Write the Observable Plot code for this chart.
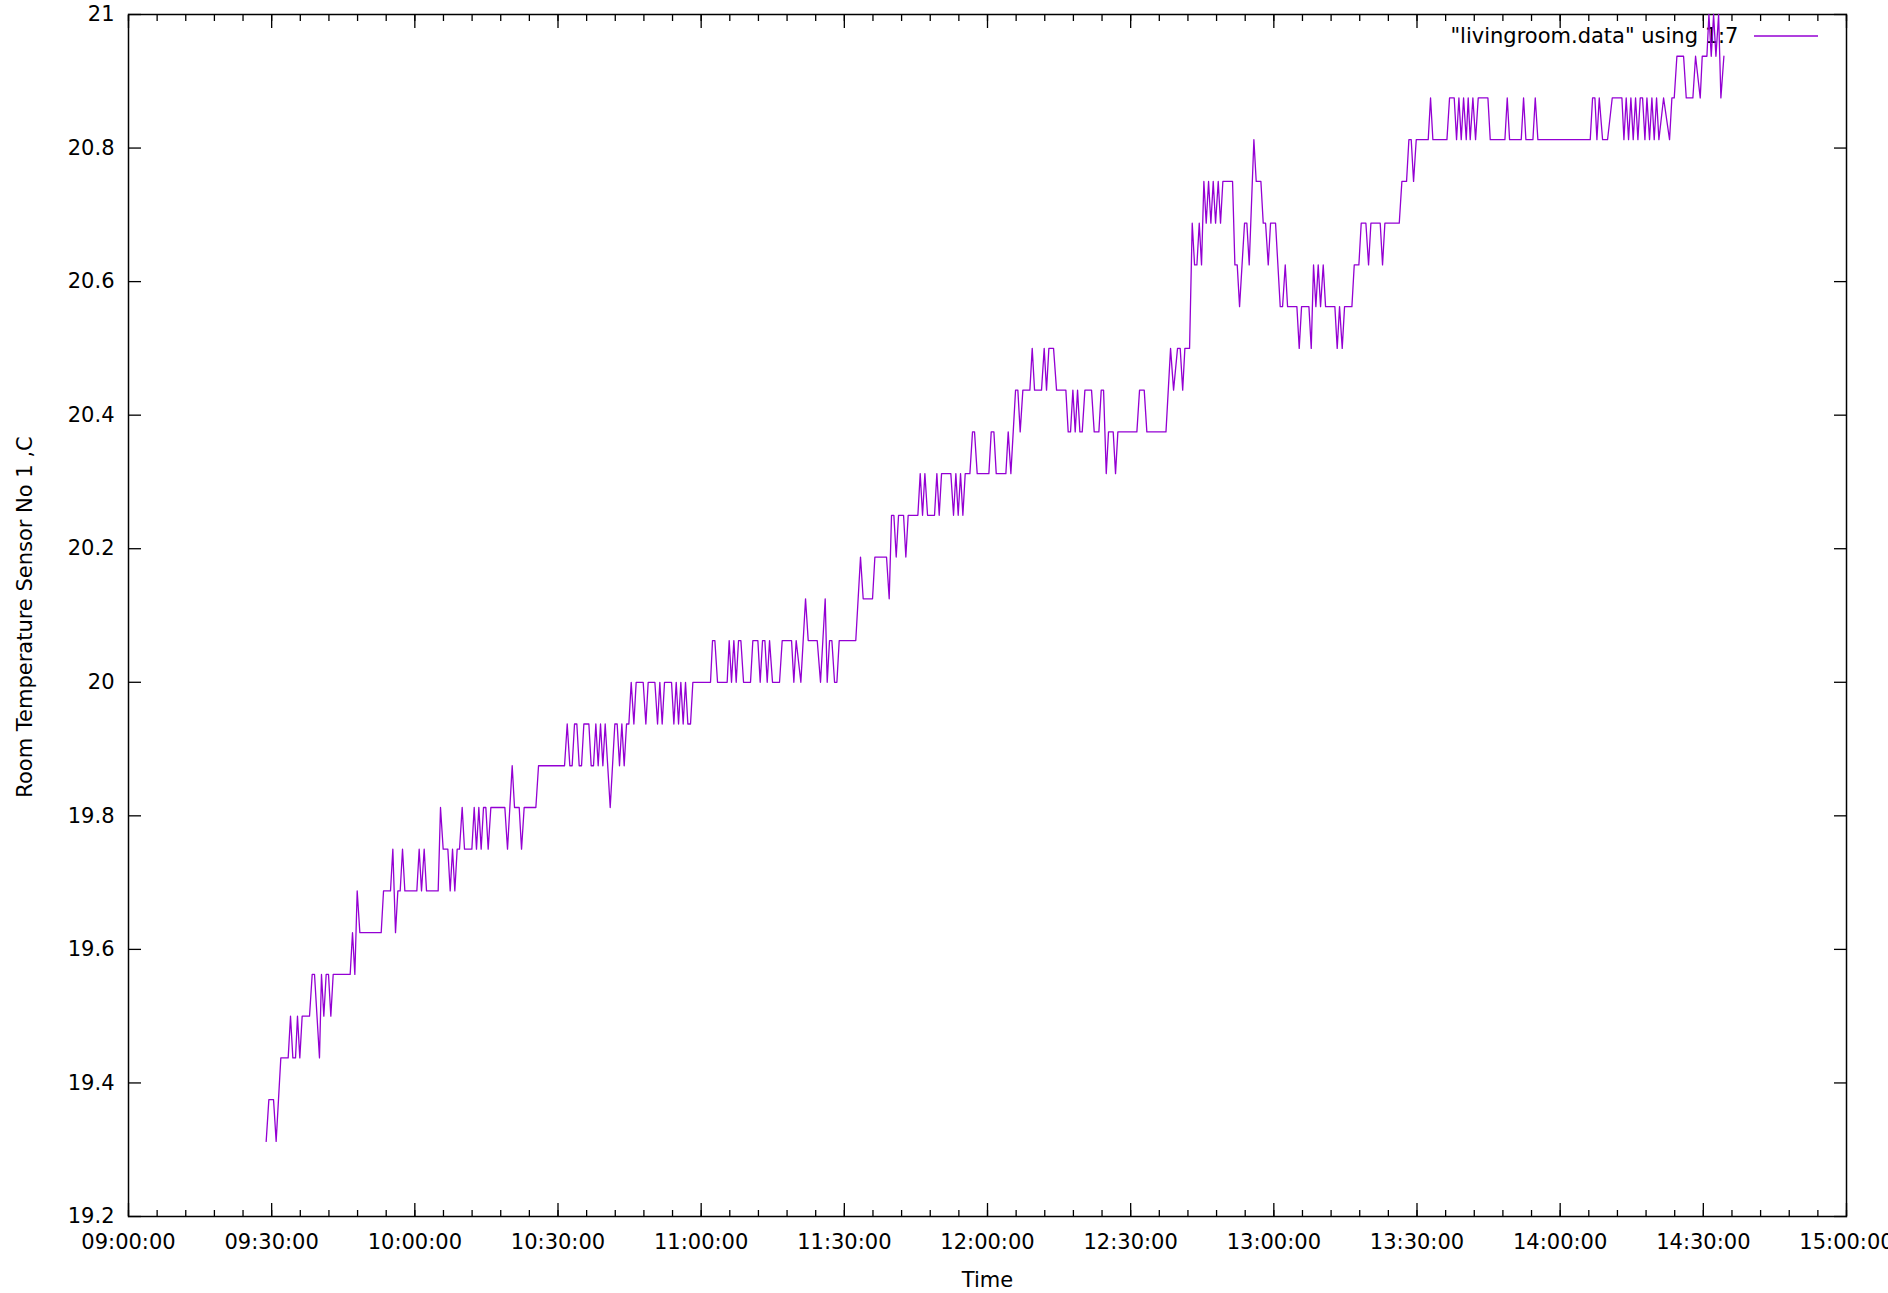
<!DOCTYPE html>
<html><head><meta charset="utf-8">
<script src="https://cdn.jsdelivr.net/npm/d3@7"></script>
<script src="https://cdn.jsdelivr.net/npm/@observablehq/plot@0.6"></script>
<style>html,body{margin:0;padding:0;background:#fff;}#chart{width:1888px;height:1293px;}</style>
</head><body><div id="chart"></div>
<script>
// Minutes after 09:00:00 for each sample
const timeMin = [
28.85,29.41,30.39,30.94,31.92,33.46,33.95,34.44,35.0,35.41,35.9,36.39,37.93,38.49,38.98,40.02,40.44,40.93,41.42,41.91,42.4,42.89,46.45,46.94,47.43,47.92,48.48,52.95,53.44,54.9,55.39,55.95,56.44,
56.93,57.42,57.91,60.42,60.91,61.4,61.96,62.45,64.89,65.38,65.94,66.92,67.41,67.9,68.38,68.87,69.36,69.92,70.41,71.95,72.44,72.92,73.41,73.9,74.39,74.88,75.37,75.93,78.86,79.42,80.4,80.89,81.87,82.36,82.91,85.36,85.92,
91.37,91.93,92.48,92.97,93.46,93.95,94.44,94.93,95.42,96.47,96.95,97.44,97.93,98.42,98.91,99.4,99.89,100.94,101.91,102.4,102.89,103.38,103.87,104.36,104.85,105.34,105.9,106.38,107.85,108.41,108.9,110.3,110.86,111.34,111.83,112.32,113.79,114.28,114.77,115.26,115.74,116.23,116.72,117.21,117.77,118.26,
121.96,122.38,122.87,123.43,125.45,125.87,126.36,126.85,127.34,127.83,128.32,128.88,130.34,130.83,131.88,132.37,132.86,133.35,133.84,134.33,134.95,136.42,136.98,138.94,139.42,139.91,140.89,141.87,142.43,144.32,145.01,145.99,146.41,146.9,147.39,147.95,148.44,148.93,
152.4,153.39,153.95,155.91,156.4,158.84,159.4,159.89,160.38,160.87,161.36,162.41,162.89,163.38,165.41,165.9,166.39,166.88,167.44,168.9,169.39,169.88,170.37,172.32,172.88,173.37,173.86,174.35,174.84,175.33,176.31,176.86,177.28,177.84,180.29,180.78,181.34,181.83,
183.85,184.34,184.9,185.88,186.36,186.85,187.41,188.88,189.37,189.86,191.32,191.88,192.37,192.86,193.84,194.47,196.42,196.91,197.4,197.89,198.38,198.87,199.36,199.85,200.41,201.8,202.36,203.34,203.83,204.32,204.88,205.36,206.34,206.83,207.32,211.3,211.86,212.84,213.39,
217.4,218.36,218.99,219.82,220.38,220.9,221.36,222.34,222.9,223.39,223.88,224.37,224.85,225.34,225.83,226.32,226.81,227.3,227.79,228.35,228.83,229.32,231.35,231.84,232.33,232.82,233.86,234.35,234.84,235.82,236.31,237.29,237.78,238.27,238.83,239.31,240.36,
241.34,241.83,242.39,242.88,244.83,245.32,245.81,247.35,247.84,248.32,248.81,249.3,249.79,250.35,250.84,252.79,253.28,253.77,254.33,254.82,256.36,256.85,257.82,258.31,259.29,259.85,260.34,262.29,262.78,263.27,266.28,266.83,267.81,268.3,268.79,269.28,269.84,
272.35,272.84,273.33,276.27,276.82,277.8,278.29,278.78,279.27,279.76,280.32,280.73,281.15,281.71,282.27,282.83,284.86,285.35,288.42,288.91,289.4,291.84,292.33,292.82,294.29,294.78,295.33,
306.3,306.79,307.28,307.7,308.19,308.89,309.93,310.91,312.94,313.36,313.84,314.33,314.82,315.31,315.8,316.29,316.78,317.27,317.76,318.18,318.73,319.22,319.71,320.2,320.69,321.67,322.92,323.41,323.9,324.46,325.86,326.42,327.81,328.37,329.35,329.77,330.75,331.17,331.66,332.15,332.64,333.2,333.68,334.31
];
// Room temperature, °C
const tempC = [
19.3125,19.375,19.375,19.3125,19.4375,19.4375,19.5,19.4375,19.4375,19.5,19.4375,19.5,19.5,19.5625,19.5625,19.4375,19.5625,19.5,19.5625,19.5625,19.5,19.5625,19.5625,19.625,19.5625,19.6875,19.625,19.625,19.6875,19.6875,19.75,19.625,19.6875,
19.6875,19.75,19.6875,19.6875,19.75,19.6875,19.75,19.6875,19.6875,19.8125,19.75,19.75,19.6875,19.75,19.6875,19.75,19.75,19.8125,19.75,19.75,19.8125,19.75,19.8125,19.75,19.8125,19.8125,19.75,19.8125,19.8125,19.75,19.875,19.8125,19.8125,19.75,19.8125,19.8125,19.875,
19.875,19.9375,19.875,19.875,19.9375,19.9375,19.875,19.875,19.9375,19.9375,19.875,19.875,19.9375,19.875,19.9375,19.875,19.9375,19.8125,19.9375,19.9375,19.875,19.9375,19.875,19.9375,19.9375,20,19.9375,20,20,19.9375,20,20,19.9375,20,19.9375,20,20,19.9375,20,19.9375,20,19.9375,20,19.9375,19.9375,20,
20,20.0625,20.0625,20,20,20.0625,20,20.0625,20,20.0625,20.0625,20,20,20.0625,20.0625,20,20.0625,20.0625,20,20.0625,20,20,20.0625,20.0625,20,20.0625,20,20.125,20.0625,20.0625,20,20.125,20,20.0625,20.0625,20,20,20.0625,
20.0625,20.1875,20.125,20.125,20.1875,20.1875,20.125,20.25,20.25,20.1875,20.25,20.25,20.1875,20.25,20.25,20.3125,20.25,20.3125,20.25,20.25,20.3125,20.25,20.3125,20.3125,20.25,20.3125,20.25,20.3125,20.25,20.3125,20.3125,20.375,20.375,20.3125,20.3125,20.375,20.375,20.3125,
20.3125,20.375,20.3125,20.4375,20.4375,20.375,20.4375,20.4375,20.5,20.4375,20.4375,20.5,20.4375,20.5,20.5,20.4375,20.4375,20.375,20.375,20.4375,20.375,20.4375,20.375,20.375,20.4375,20.4375,20.375,20.375,20.4375,20.4375,20.3125,20.375,20.375,20.3125,20.375,20.375,20.4375,20.4375,20.375,
20.375,20.5,20.4375,20.5,20.5,20.4375,20.5,20.5,20.6875,20.625,20.625,20.6875,20.625,20.75,20.6875,20.75,20.6875,20.75,20.6875,20.75,20.6875,20.75,20.75,20.625,20.625,20.5625,20.6875,20.6875,20.625,20.8125,20.75,20.75,20.6875,20.6875,20.625,20.6875,20.6875,
20.5625,20.5625,20.625,20.5625,20.5625,20.5,20.5625,20.5625,20.5,20.625,20.5625,20.625,20.5625,20.625,20.5625,20.5625,20.5,20.5625,20.5,20.5625,20.5625,20.625,20.625,20.6875,20.6875,20.625,20.6875,20.6875,20.625,20.6875,20.6875,20.75,20.75,20.8125,20.8125,20.75,20.8125,
20.8125,20.875,20.8125,20.8125,20.875,20.875,20.8125,20.875,20.8125,20.875,20.8125,20.875,20.8125,20.875,20.8125,20.875,20.875,20.8125,20.8125,20.875,20.8125,20.8125,20.875,20.8125,20.8125,20.875,20.8125,
20.8125,20.875,20.875,20.8125,20.875,20.8125,20.8125,20.875,20.875,20.8125,20.875,20.8125,20.875,20.8125,20.875,20.8125,20.875,20.875,20.8125,20.875,20.8125,20.875,20.8125,20.875,20.8125,20.875,20.8125,20.875,20.875,20.9375,20.9375,20.875,20.875,20.9375,20.875,20.9375,20.9375,21,20.9375,21,20.9375,21,20.875,20.9375
];
const xTickLabels = ["09:00:00","09:30:00","10:00:00","10:30:00","11:00:00","11:30:00","12:00:00","12:30:00","13:00:00","13:30:00","14:00:00","14:30:00","15:00:00"];
const yTickValues = [19.2,19.4,19.6,19.8,20,20.2,20.4,20.6,20.8,21];
const yTickLabels = ["19.2","19.4","19.6","19.8","20","20.2","20.4","20.6","20.8","21"];
const legendLabel = '"livingroom.data" using 1:7';
const xLabel = "Time";
const yLabel = "Room Temperature Sensor No 1 ,C";

const base = Date.UTC(2000, 0, 1, 9, 0, 0);
const toDate = m => new Date(base + m * 60000);
const data = timeMin.map((m, i) => ({t: toDate(m), v: tempC[i]}));
const majorX = xTickLabels.map((s, i) => toDate(i * 30));
const minorX = d3.range(0, 361, 6).map(toDate);
const fmtX = d => xTickLabels[majorX.findIndex(t => +t === +d)];
const fmtY = d => yTickLabels[yTickValues.indexOf(d)];
const lineColor = "#9400d3";

const chart = Plot.plot({
  width: 1888, height: 1293,
  marginLeft: 128, marginRight: 42, marginTop: 14, marginBottom: 77,
  style: {fontFamily: "DejaVu Sans", fontSize: "21px", background: "#fff", color: "#000"},
  x: {type: "utc", domain: [toDate(0), toDate(360)]},
  y: {domain: [19.2, 21]},
  marks: [
    Plot.axisX({anchor: "bottom", ticks: minorX, tickSize: -6, fill: "none", label: null, strokeWidth: 1.3}),
    Plot.axisX({anchor: "bottom", ticks: majorX, tickSize: -13, fill: "none", label: null, strokeWidth: 1.3}),
    Plot.axisX({anchor: "top", ticks: minorX, tickSize: -6, fill: "none", label: null, strokeWidth: 1.3}),
    Plot.axisX({anchor: "top", ticks: majorX, tickSize: -13, fill: "none", label: null, strokeWidth: 1.3}),
    Plot.axisX({anchor: "bottom", ticks: majorX, tickSize: 0, tickPadding: 18, tickFormat: fmtX, label: null}),
    Plot.axisY({anchor: "left", ticks: yTickValues, tickSize: -13, fill: "none", label: null, strokeWidth: 1.3}),
    Plot.axisY({anchor: "right", ticks: yTickValues, tickSize: -13, fill: "none", label: null, strokeWidth: 1.3}),
    Plot.axisY({anchor: "left", ticks: yTickValues, tickSize: 0, tickPadding: 14, tickFormat: fmtY, label: null}),
    Plot.frame({stroke: "#000", strokeWidth: 1.5}),
    Plot.text([legendLabel], {text: d => d, frameAnchor: "top-right", dx: -108, dy: 22, textAnchor: "end", lineAnchor: "middle"}),
    Plot.line(data, {x: "t", y: "v", stroke: lineColor, strokeWidth: 1.3}),
    Plot.text([xLabel], {text: d => d, frameAnchor: "bottom", dy: 64, lineAnchor: "middle"})
  ]
});
const svg = d3.select(chart);
// y-axis title, rotated, centred on the plot frame
svg.append("text")
  .attr("transform", "translate(25,617) rotate(-90)")
  .attr("text-anchor", "middle").attr("dy", "0.35em")
  .attr("fill", "#000").attr("font-family", "DejaVu Sans").attr("font-size", 21)
  .text(yLabel);
// legend swatch
svg.append("line")
  .attr("x1", 1754).attr("x2", 1818).attr("y1", 36).attr("y2", 36)
  .attr("stroke", lineColor).attr("stroke-width", 1.3);
document.getElementById("chart").appendChild(chart);
</script>
</body></html>
